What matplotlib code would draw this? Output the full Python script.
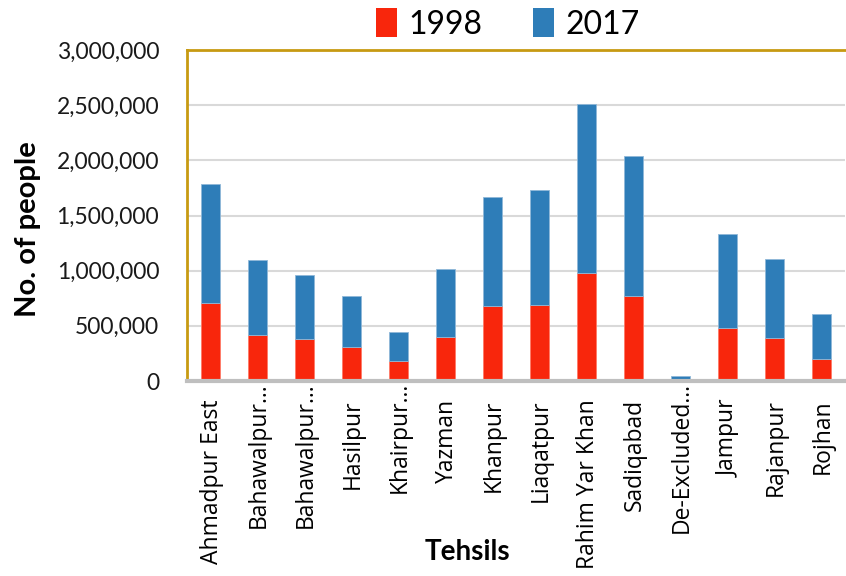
import matplotlib
matplotlib.use("Agg")
import matplotlib.pyplot as plt
from matplotlib.ticker import FuncFormatter
from matplotlib.patches import Patch

tehsils = ["Ahmadpur East", "Bahawalpur…", "Bahawalpur…", "Hasilpur", "Khairpur…",
           "Yazman", "Khanpur", "Liaqatpur", "Rahim Yar Khan", "Sadiqabad",
           "De-Excluded…", "Jampur", "Rajanpur", "Rojhan"]
pop_1998 = [710000, 417000, 380000, 308000, 181000, 398000, 679000,
            688000, 975000, 770000, 0, 480000, 392000, 199000]
pop_2017 = [1080000, 680000, 580000, 462000, 263000, 616000, 988000,
            1042000, 1540000, 1265000, 43000, 854000, 710000, 411000]
y_ticks = [0, 500000, 1000000, 1500000, 2000000, 2500000, 3000000]

RED = "#F8260C"
BLUE = "#2E7DB8"
GOLD = "#C79A12"
HUMANIST = ["Lato", "DejaVu Sans"]
LABEL_FONT = ["Open Sans", "DejaVu Sans"]

fig = plt.figure(figsize=(8.46, 5.76), dpi=100)
ax = fig.add_axes([187 / 846, 1 - 381 / 576, 658 / 846, 331 / 576])

x = list(range(len(tehsils)))
ax.bar(x, pop_1998, width=0.4, color=RED, edgecolor="#FF7A66", linewidth=0.6, zorder=3)
ax.bar(x, pop_2017, width=0.4, bottom=pop_1998, color=BLUE, edgecolor="#8FB8D8",
       linewidth=0.6, zorder=3)

ax.set_xlim(-0.5, len(tehsils) - 0.5)
ax.set_ylim(0, 3000000)
ax.set_yticks(y_ticks)
ax.yaxis.set_major_formatter(FuncFormatter(lambda v, p: f"{int(v):,}"))
ax.grid(axis="y", color="#D9D9D9", linewidth=1.5, zorder=0)
ax.set_axisbelow(True)

# category labels: truncated names run closer to the axis
ax.set_xticks(x)
ax.set_xticklabels([])
ax.tick_params(axis="x", length=0)
for i, name in enumerate(tehsils):
    gap = 1 if name.endswith("…") else 18
    ax.annotate(name, xy=(i, 0), xycoords=ax.get_xaxis_transform(),
                xytext=(1.5, -gap), textcoords="offset pixels",
                rotation=90, ha="center", va="top", fontsize=16.5,
                family=LABEL_FONT, color="#000000", annotation_clip=False)

ax.tick_params(axis="y", length=0, pad=20)
for lbl in ax.get_yticklabels():
    lbl.set_family(HUMANIST)
    lbl.set_fontsize(16.5)
    lbl.set_color("#1a1a1a")

ax.spines["left"].set_color(GOLD)
ax.spines["left"].set_linewidth(2)
ax.spines["top"].set_color(GOLD)
ax.spines["top"].set_linewidth(2)
ax.spines["right"].set_visible(False)
ax.spines["bottom"].set_color("#BFBFBF")
ax.spines["bottom"].set_linewidth(3)
ax.spines["bottom"].set_zorder(4)

fig.text(467 / 846, 1 - 552 / 576, "Tehsils", family=HUMANIST, fontweight="bold",
         fontsize=20, ha="center", va="center")
fig.text(28 / 846, 1 - 229 / 576, "No. of people", family=HUMANIST, fontweight="bold",
         fontsize=21, rotation=90, ha="center", va="center")

handles = [Patch(facecolor=RED), Patch(facecolor=BLUE)]
fig.legend(handles, ["1998", "2017"], loc="center", bbox_to_anchor=(508 / 846, 1 - 24 / 576),
           ncol=2, frameon=False, prop={"family": HUMANIST, "size": 23},
           handlelength=0.65, handleheight=1.0, handletextpad=0.35, columnspacing=1.6)

fig.savefig("out.png", dpi=100)
